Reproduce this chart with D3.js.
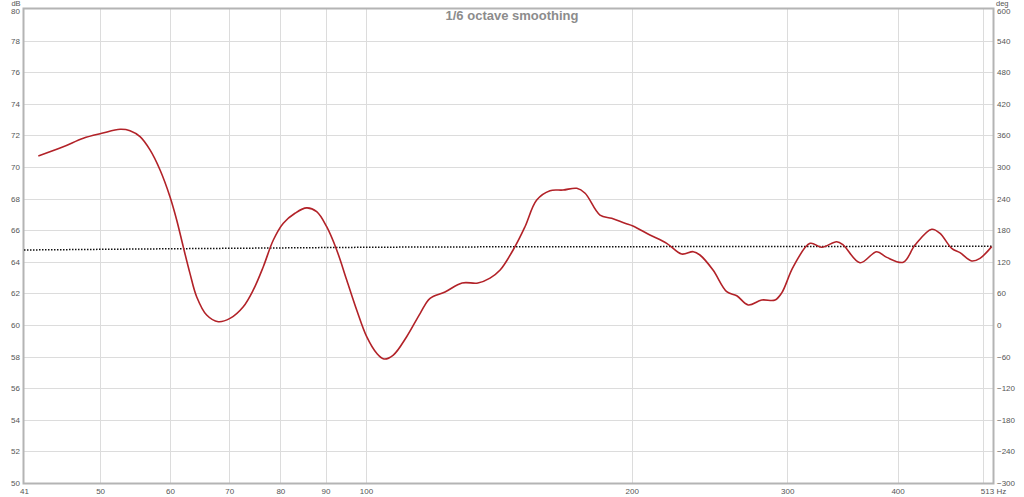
<!DOCTYPE html>
<html>
<head>
<meta charset="utf-8">
<script src="https://cdn.jsdelivr.net/npm/d3@7"></script>
<style>
  html, body { margin: 0; padding: 0; background: #fff; }
  svg { display: block; }
</style>
</head>
<body>
<svg id="chart" width="1024" height="497"></svg>
<script>
// ---- data ----
const title = "1/6 octave smoothing";
const freqTicks = [41, 50, 60, 70, 80, 90, 100, 200, 300, 400, 513];
const freqTickLabels = ["41", "50", "60", "70", "80", "90", "100", "200", "300", "400", "513 Hz"];
const freqGrid = [50, 60, 70, 80, 90, 100, 200, 300, 400, 500];
const dbTicks = [50, 52, 54, 56, 58, 60, 62, 64, 66, 68, 70, 72, 74, 76, 78, 80];
const degTicks = [-300, -240, -180, -120, -60, 0, 60, 120, 180, 240, 300, 360, 420, 480, 540, 600];

const splFreq = [42.56, 45.42, 47.86, 50.22, 52.68, 54.06, 55.49, 56.95, 58.46, 59.99, 61.05, 62.10, 63.20, 64.31, 66.01, 68.04, 70.15,
  72.63, 74.55, 76.52, 78.55, 80.62, 83.11, 85.69, 87.95, 90.27, 92.66, 95.11, 97.62, 100.2, 102.85, 104.82, 107.4, 111.2, 115.2, 118.2,
  122.9, 128.5, 133.9, 138.2, 141.9, 147.5, 151.4, 156.1, 161.6, 167.2, 173.3, 177.1, 184.1, 189.8, 196.5, 200.6, 209.7, 219.1, 227.8,
  234.8, 238.9, 247.2, 256.2, 263.0, 271.0, 280.7, 290.6, 295.7, 304.8, 318.4, 328.2, 341.3, 347.2, 362.7, 378.8, 388.9, 406.0, 418.6,
  437.2, 446.8, 460.6, 470.7, 485.3, 495.9, 511.2];
const splDb = [70.70, 71.28, 71.82, 72.13, 72.39, 72.30, 71.92, 71.08, 69.81, 68.12, 66.65, 64.96, 63.27, 61.79, 60.63, 60.21, 60.42,
  61.16, 62.22, 63.69, 65.38, 66.44, 67.07, 67.41, 67.17, 66.22, 64.75, 62.85, 60.95, 59.26, 58.21, 57.85, 58.10, 59.26, 60.74, 61.69,
  62.09, 62.66, 62.66, 62.97, 63.48, 64.96, 66.22, 67.91, 68.50, 68.54, 68.65, 68.34, 66.96, 66.75, 66.44, 66.27, 65.70, 65.17, 64.49,
  64.64, 64.43, 63.48, 62.11, 61.85, 61.27, 61.58, 61.58, 62.03, 63.69, 65.17, 64.92, 65.27, 65.06, 63.94, 64.64, 64.28, 63.97, 65.06,
  66.06, 65.80, 64.85, 64.58, 64.05, 64.22, 64.96];

const phaseFreq = [41, 70, 118, 270, 513];
const phaseDeg = [142.4, 145.6, 148.1, 149.0, 149.6];

// ---- layout ----
const svg = d3.select("#chart");
const L = 24, R = 993, T = 9, B = 483;
const x = d3.scaleLog().domain([41, 513]).range([L, R]);
const y = d3.scaleLinear().domain([50, 80]).range([B, T]);
const yDeg = d3.scaleLinear().domain([-300, 600]).range([B, T]);

const gridColor = "#dcdcdc";
const labelColor = "#555";
const font = "'Liberation Sans', Arial, sans-serif";

// grid
const g = svg.append("g");
g.selectAll("line.h").data(dbTicks.slice(1, -1)).join("line")
  .attr("x1", L).attr("x2", R)
  .attr("y1", d => Math.round(y(d)) + 0.5).attr("y2", d => Math.round(y(d)) + 0.5)
  .attr("stroke", gridColor).attr("stroke-width", 1);
g.selectAll("line.v").data(freqGrid).join("line")
  .attr("y1", T).attr("y2", B)
  .attr("x1", d => Math.round(x(d)) + 0.5).attr("x2", d => Math.round(x(d)) + 0.5)
  .attr("stroke", gridColor).attr("stroke-width", 1);

// frame
svg.append("rect").attr("x", L - 0.5).attr("y", T - 0.5).attr("width", R - L + 1).attr("height", B - T + 1)
  .attr("fill", "none").attr("stroke", "#b4b4b4").attr("stroke-width", 2);

// left axis labels
const leftAxis = d3.axisLeft(y).tickValues(dbTicks).tickSize(0).tickPadding(3);
const la = svg.append("g").attr("transform", `translate(${L - 1},0)`).call(leftAxis);
la.select(".domain").remove();
la.selectAll("text").attr("font-family", font).attr("font-size", 8).attr("fill", labelColor);
la.selectAll("text").filter(d => d === 80).attr("dy", "0.55em");

// right axis labels
const rightAxis = d3.axisRight(yDeg).tickValues(degTicks).tickSize(0).tickPadding(3);
const ra = svg.append("g").attr("transform", `translate(${R + 1},0)`).call(rightAxis);
ra.select(".domain").remove();
ra.selectAll("text").attr("font-family", font).attr("font-size", 8).attr("fill", labelColor);
ra.selectAll("text").filter(d => d === 600).attr("dy", "0.55em");

// bottom axis labels
const bottomAxis = d3.axisBottom(x).tickValues(freqTicks).tickSize(0).tickPadding(4)
  .tickFormat((d, i) => freqTickLabels[i]);
const ba = svg.append("g").attr("transform", `translate(0,${B + 1})`).call(bottomAxis);
ba.select(".domain").remove();
ba.selectAll("text").attr("font-family", font).attr("font-size", 8).attr("fill", labelColor);

// unit labels
svg.append("text").attr("x", 16).attr("y", 5.5).attr("text-anchor", "middle")
  .attr("font-family", font).attr("font-size", 7.5).attr("fill", labelColor).text("dB");
svg.append("text").attr("x", 996).attr("y", 5.5).attr("text-anchor", "start")
  .attr("font-family", font).attr("font-size", 7.5).attr("fill", labelColor).text("deg");

// title
svg.append("text").attr("x", 512).attr("y", 20).attr("text-anchor", "middle")
  .attr("font-family", font).attr("font-size", 13).attr("font-weight", "bold")
  .attr("fill", "#8c8c8c").text(title);

// phase dotted line
const phaseLine = d3.line().x((d, i) => x(phaseFreq[i])).y(d => yDeg(d)).curve(d3.curveMonotoneX);
svg.append("path").datum(phaseDeg).attr("d", phaseLine)
  .attr("fill", "none").attr("stroke", "#111").attr("stroke-width", 1.5).attr("stroke-dasharray", "1.5,1.5");

// SPL curve
const splLine = d3.line().x((d, i) => x(splFreq[i])).y(d => y(d)).curve(d3.curveCatmullRom.alpha(0.5));
svg.append("path").datum(splDb).attr("d", splLine)
  .attr("fill", "none").attr("stroke", "#b22228").attr("stroke-width", 1.6);
</script>
</body>
</html>
